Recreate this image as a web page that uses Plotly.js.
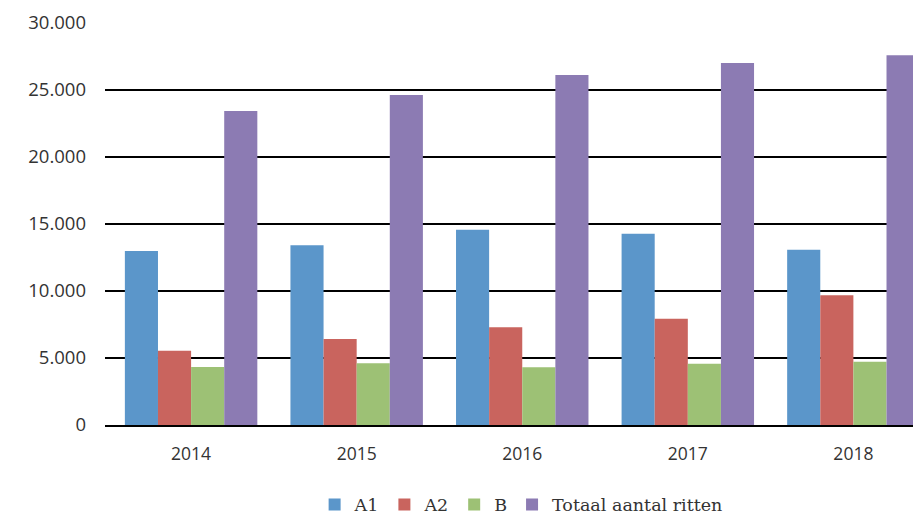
<!DOCTYPE html>
<html>
<head>
<meta charset="utf-8">
<script src="https://cdn.plot.ly/plotly-3.0.1.min.js"></script>
<style>
  html, body { margin: 0; padding: 0; background: #fff; overflow: hidden; }
  #chart { width: 913px; height: 516px; }
</style>
</head>
<body>
<div id="chart"></div>
<script>
// Ritten per jaar, per categorie
const years = ['2014', '2015', '2016', '2017', '2018'];
const seriesNames = ['A1', 'A2', 'B', 'Totaal aantal ritten'];
const a1 = [12980, 13410, 14580, 14280, 13080];
const a2 = [5540, 6420, 7290, 7930, 9680];
const b = [4330, 4600, 4310, 4570, 4720];
const totaal = [23430, 24630, 26120, 27010, 27590];
const colors = ['#5B96CA', '#C9645E', '#9DC175', '#8C7BB3'];

const values = [a1, a2, b, totaal];
const data = values.map((v, i) => ({
    x: years,
    y: v,
    name: seriesNames[i],
    type: 'bar',
    marker: { color: colors[i], line: { width: 0 } },
    hoverinfo: 'x+y+name'
}));

const layout = {
    width: 913,
    height: 516,
    barmode: 'group',
    bargap: 0.2,
    bargroupgap: 0,
    separators: ',.',
    paper_bgcolor: '#ffffff',
    plot_bgcolor: '#ffffff',
    margin: { l: 105, r: 0, t: 23, b: 91, autoexpand: false },
    font: { family: 'Open Sans, sans-serif', color: '#333333' },
    xaxis: {
        type: 'category',
        range: [-0.52, 4.36],
        showgrid: false,
        showline: true,
        linecolor: '#000000',
        linewidth: 2,
        ticks: '',
        tickfont: { size: 17.5, color: '#333333' },
        ticklabelstandoff: 12
    },
    yaxis: {
        range: [0, 30000],
        dtick: 5000,
        tickformat: ',d',
        showgrid: true,
        gridcolor: '#000000',
        gridwidth: 2,
        zeroline: false,
        showline: false,
        ticks: '',
        tickfont: { size: 18.5, color: '#333333' },
        ticklabelstandoff: 18
    },
    legend: {
        orientation: 'h',
        x: 0.515,
        xanchor: 'center',
        yref: 'container',
        y: 0.022,
        yanchor: 'middle',
        font: { family: 'DejaVu Serif, serif', size: 17.5, color: '#333333' },
        itemwidth: 30,
        traceorder: 'normal'
    },
    showlegend: true
};

Plotly.newPlot('chart', data, layout, { displayModeBar: false, staticPlot: true });
</script>
</body>
</html>
